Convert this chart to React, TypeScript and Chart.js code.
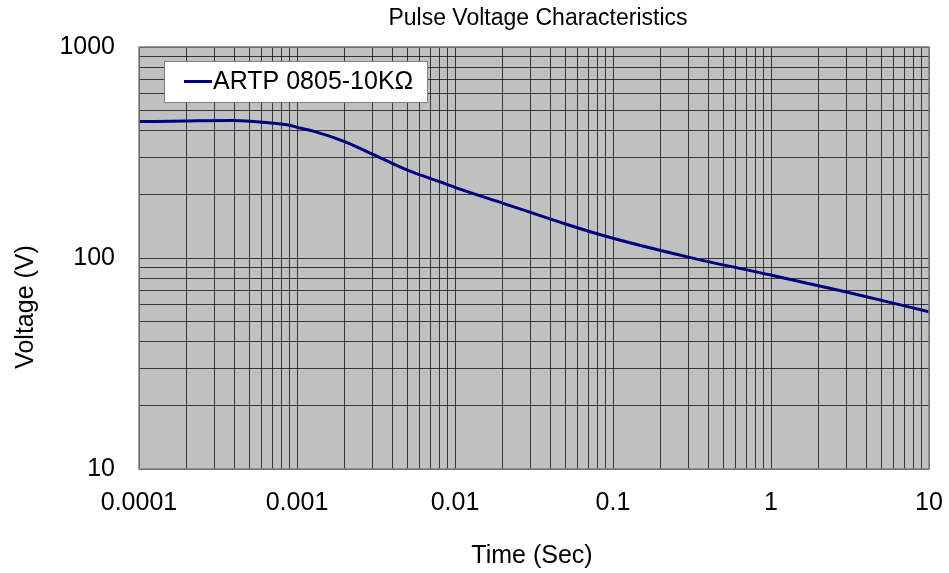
import React, { useEffect, useRef } from "react";
import { Chart, registerables } from "chart.js";

Chart.register(...registerables);

const chartTitle = "Pulse Voltage Characteristics";
const seriesLabel = "ARTP 0805-10KΩ";
const xTitle = "Time (Sec)";
const yTitle = "Voltage (V)";

const times = [0.0001, 0.0002, 0.0004, 0.00066, 0.0009, 0.001, 0.0013, 0.002, 0.0031, 0.005, 0.0075, 0.0116, 0.02, 0.05, 0.1, 0.3, 1, 3, 10];
const volts = [443, 446, 448, 437, 426, 416, 397, 356, 307, 261, 234, 208, 182, 145, 124, 101, 83, 69, 55.6];

const xTickLabels = ["0.0001", "0.001", "0.01", "0.1", "1", "10"];
const yTickLabels = ["10", "100", "1000"];

const FONT = "'Liberation Sans', Arial, sans-serif";

function logTicks(min: number, max: number) {
  const out: { value: number }[] = [];
  for (let d = min; d < max * 0.999; d *= 10) {
    for (let m = 1; m <= 9; m++) out.push({ value: +(m * d).toPrecision(6) });
  }
  out.push({ value: max });
  return out;
}

function labelFor(v: number, labels: string[]) {
  const found = labels.find((l) => Math.abs(parseFloat(l) - v) / v < 1e-6);
  return found ?? "";
}

const decorPlugin = {
  id: "decor",
  beforeDraw(chart: any) {
    const { ctx, chartArea: a } = chart;
    ctx.save();
    ctx.fillStyle = "#C0C0C0";
    ctx.fillRect(a.left, a.top, a.right - a.left, a.bottom - a.top);
    ctx.restore();
  },
  afterDraw(chart: any) {
    const { ctx, chartArea: a } = chart;
    ctx.save();
    ctx.strokeStyle = "#808080";
    ctx.lineWidth = 1.5;
    ctx.strokeRect(a.left, a.top, a.right - a.left, a.bottom - a.top);
    ctx.fillStyle = "#000";
    ctx.textAlign = "center";
    ctx.textBaseline = "middle";
    ctx.font = `23px ${FONT}`;
    ctx.fillText(chartTitle, (a.left + a.right) / 2 + 4, 19);
    ctx.font = `25px ${FONT}`;
    ctx.fillText(xTitle, (a.left + a.right) / 2 - 2, 556);
    ctx.save();
    ctx.translate(26, 307);
    ctx.rotate(-Math.PI / 2);
    ctx.fillText(yTitle, 0, 0);
    ctx.restore();
    const lx = 164, ly = 61, lw = 263, lh = 41;
    ctx.fillStyle = "#fff";
    ctx.fillRect(lx, ly, lw, lh);
    ctx.strokeStyle = "#808080";
    ctx.lineWidth = 1;
    ctx.strokeRect(lx + 0.5, ly + 0.5, lw, lh);
    const ds = chart.data.datasets[0];
    ctx.strokeStyle = ds.borderColor;
    ctx.lineWidth = 3;
    ctx.beginPath();
    ctx.moveTo(184, 81.5);
    ctx.lineTo(212, 81.5);
    ctx.stroke();
    ctx.fillStyle = "#000";
    ctx.textAlign = "left";
    ctx.textBaseline = "middle";
    ctx.font = `25px ${FONT}`;
    ctx.fillText(ds.label, 213, 82);
    ctx.restore();
  },
};

export default function App() {
  const ref = useRef<HTMLCanvasElement | null>(null);
  useEffect(() => {
    document.body.style.margin = "0";
    const canvas = ref.current!;
    const gridColor = "rgba(0,0,0,0.72)";
    const chart = new Chart(canvas, {
      type: "line",
      data: {
        datasets: [
          {
            label: seriesLabel,
            data: times.map((t, i) => ({ x: t, y: volts[i] })),
            borderColor: "#000080",
            borderWidth: 3,
            pointRadius: 0,
            cubicInterpolationMode: "monotone",
            fill: false,
          },
        ],
      },
      options: {
        responsive: false,
        animation: false,
        layout: { padding: { top: 47, right: 20, left: 0, bottom: 0 } },
        plugins: { legend: { display: false }, title: { display: false }, tooltip: { enabled: false } },
        scales: {
          x: {
            type: "logarithmic",
            min: 0.0001,
            max: 10,
            afterBuildTicks: (s: any) => { s.ticks = logTicks(0.0001, 10); },
            afterFit: (s: any) => { s.height = 104; s.paddingLeft = 0; s.paddingRight = 0; },
            grid: { color: gridColor, lineWidth: 1, drawTicks: false },
            border: { display: false },
            ticks: {
              autoSkip: false,
              maxRotation: 0,
              padding: 19,
              color: "#000",
              font: { family: FONT, size: 25 },
              callback: (v: any) => labelFor(Number(v), xTickLabels),
            },
          },
          y: {
            type: "logarithmic",
            min: 10,
            max: 1000,
            afterBuildTicks: (s: any) => { s.ticks = logTicks(10, 1000); },
            afterFit: (s: any) => { s.width = 139; s.paddingTop = 0; s.paddingBottom = 0; },
            grid: { color: gridColor, lineWidth: 1, drawTicks: false },
            border: { display: false },
            ticks: {
              autoSkip: false,
              padding: 24,
              color: "#000",
              font: { family: FONT, size: 25 },
              callback: (v: any) => labelFor(Number(v), yTickLabels),
            },
          },
        },
      } as any,
      plugins: [decorPlugin],
    });
    return () => chart.destroy();
  }, []);
  return (
    <div style={{ width: 949, height: 573 }}>
      <canvas ref={ref} width={949} height={573} style={{ display: "block" }} />
    </div>
  );
}
